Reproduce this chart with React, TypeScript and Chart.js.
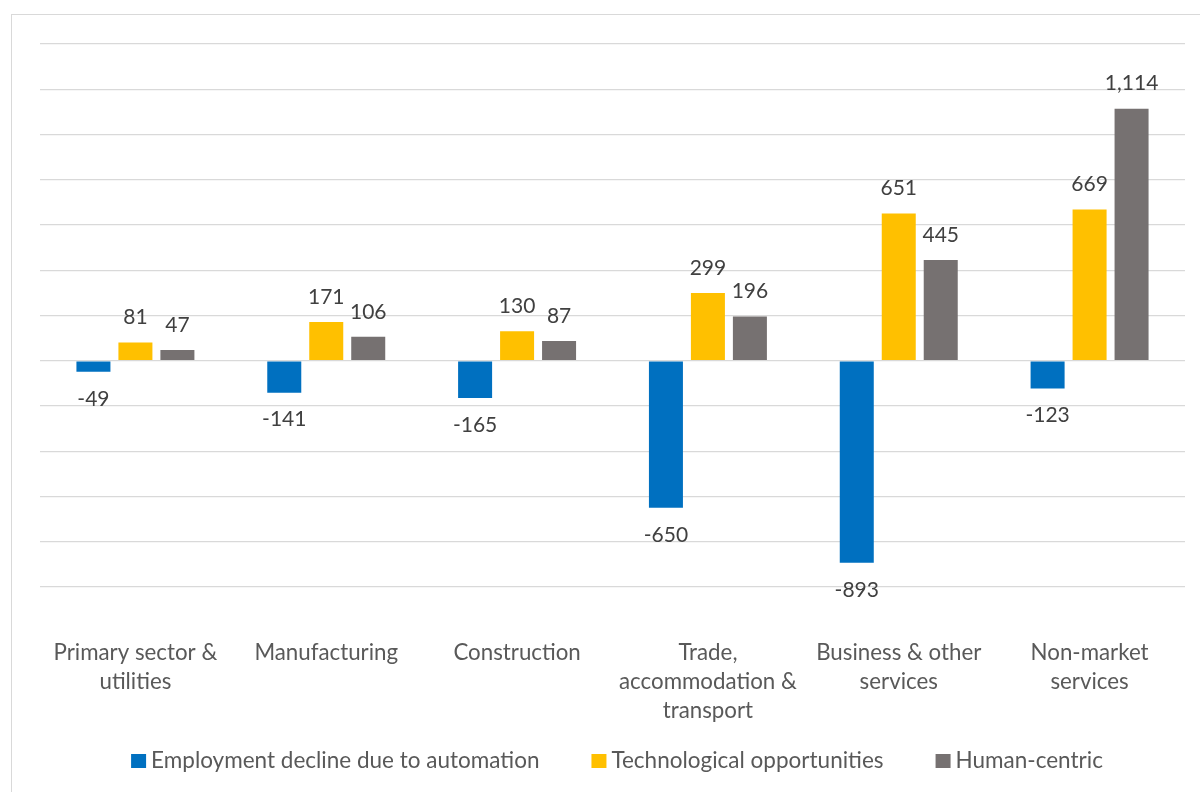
import React, { useEffect, useRef } from "react";
import { Chart, registerables } from "chart.js";

Chart.register(...registerables);

const categories: string[][] = [
  ["Primary sector &", "utilities"],
  ["Manufacturing"],
  ["Construction"],
  ["Trade,", "accommodation &", "transport"],
  ["Business & other", "services"],
  ["Non-market", "services"],
];
const automationDecline = [-49, -141, -165, -650, -893, -123];
const techOpportunities = [81, 171, 130, 299, 651, 669];
const humanCentric = [47, 106, 87, 196, 445, 1114];
const seriesNames = [
  "Employment decline due to automation",
  "Technological opportunities",
  "Human-centric",
];
const seriesColors = ["#0070C0", "#FFC000", "#767171"];
const yMin = -1000;
const yMax = 1400;
const yStep = 200;

const FONT = "Lato, 'Liberation Sans', sans-serif";

const valueLabels = {
  id: "valueLabels",
  afterDatasetsDraw(chart: any) {
    const ctx = chart.ctx;
    ctx.save();
    ctx.font = `21px ${FONT}`;
    ctx.fillStyle = "#404040";
    ctx.textAlign = "center";
    ctx.textBaseline = "middle";
    chart.data.datasets.forEach((ds: any, di: number) => {
      const meta = chart.getDatasetMeta(di);
      meta.data.forEach((el: any, i: number) => {
        const v = ds.data[i] as number;
        const y = v >= 0 ? el.y - 25 : el.y + 27;
        ctx.fillText(v.toLocaleString("en-US"), el.x, y);
      });
    });
    ctx.restore();
  },
};

const bottomLegend = {
  id: "bottomLegend",
  afterDraw(chart: any) {
    const ctx = chart.ctx;
    const box = 15;
    const boxGap = 5;
    const itemGap = 52;
    const centerX = 617;
    const centerY = 761;
    ctx.save();
    ctx.font = `22.5px ${FONT}`;
    ctx.textBaseline = "middle";
    ctx.textAlign = "left";
    const items = chart.data.datasets.map((ds: any) => ({
      text: ds.label as string,
      color: ds.backgroundColor as string,
      w: ctx.measureText(ds.label).width,
    }));
    const total =
      items.reduce((s: number, it: any) => s + box + boxGap + it.w, 0) +
      itemGap * (items.length - 1);
    let x = centerX - total / 2;
    items.forEach((it: any) => {
      ctx.fillStyle = it.color;
      ctx.fillRect(x, centerY - 7, box, 14);
      x += box + boxGap;
      ctx.fillStyle = "#595959";
      ctx.fillText(it.text, x, centerY);
      x += it.w + itemGap;
    });
    ctx.restore();
  },
};

export default function App() {
  const ref = useRef<HTMLCanvasElement | null>(null);
  useEffect(() => {
    if (!ref.current) return;
    const data = [automationDecline, techOpportunities, humanCentric];
    const chart = new Chart(ref.current, {
      type: "bar",
      data: {
        labels: categories as any,
        datasets: data.map((d, i) => ({
          label: seriesNames[i],
          data: d,
          backgroundColor: seriesColors[i],
          borderWidth: 0,
          categoryPercentage: 0.66,
          barPercentage: 0.81,
        })),
      },
      options: {
        responsive: false,
        animation: false,
        devicePixelRatio: 1,
        layout: { padding: { left: 40, right: 15, top: 44, bottom: 10 } },
        plugins: {
          tooltip: { enabled: false },
          legend: { display: false },
        },
        scales: {
          x: {
            grid: { display: false },
            border: { display: false },
            ticks: {
              color: "#595959",
              font: { family: FONT, size: 22.3, lineHeight: 1.3 },
              padding: 43,
              maxRotation: 0,
              autoSkip: false,
            },
            afterFit: (s: any) => {
              s.height = 195;
            },
          },
          y: {
            min: yMin,
            max: yMax,
            ticks: { display: false, stepSize: yStep },
            border: { display: false },
            grid: { color: "#D9D9D9", lineWidth: 1.3, drawTicks: false },
            afterFit: (s: any) => {
              s.width = 0;
            },
          },
        },
      },
      plugins: [valueLabels, bottomLegend],
    });
    return () => chart.destroy();
  }, []);

  return (
    <div
      style={{
        position: "absolute",
        left: 0,
        top: 0,
        width: 1200,
        height: 792,
        overflow: "hidden",
        background: "#ffffff",
      }}
    >
      <div
        style={{
          position: "absolute",
          left: 11,
          top: 14,
          width: 1300,
          height: 900,
          border: "1.5px solid #D9D9D9",
        }}
      />
      <canvas
        ref={ref}
        width={1200}
        height={792}
        style={{ position: "absolute", left: 0, top: 0, width: 1200, height: 792 }}
      />
    </div>
  );
}
